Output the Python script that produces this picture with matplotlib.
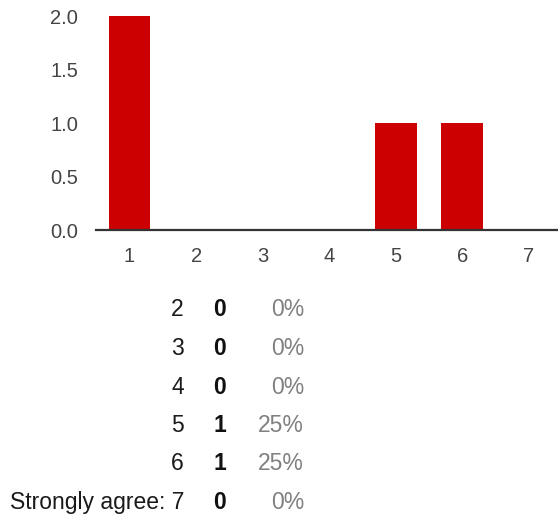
import matplotlib
matplotlib.use("Agg")
import matplotlib.pyplot as plt

plt.rcParams['font.family'] = ['Liberation Sans', 'DejaVu Sans']

# Response scale and number of answers per value
categories = [1, 2, 3, 4, 5, 6, 7]
counts = [2, 0, 0, 0, 1, 1, 0]
y_ticks = [0.0, 0.5, 1.0, 1.5, 2.0]

# Summary rows listed under the chart
row_labels = ["2", "3", "4", "5", "6", "Strongly agree: 7"]
row_categories = [2, 3, 4, 5, 6, 7]

W, H = 558, 518
DPI = 100
fig = plt.figure(figsize=(W / DPI, H / DPI), dpi=DPI)
fig.patch.set_facecolor("white")


def fx(px):
    return px / W


def fy(py):
    return 1 - py / H


ax = fig.add_axes([fx(96), fy(230.5), fx(558) - fx(96), fy(16) - fy(230.5)])
ax.bar(categories, counts, width=0.63, color="#CC0000", zorder=2)
ax.set_xlim(0.497, 7.435)
ax.set_ylim(0, 2.0)
ax.set_xticks(categories)
ax.set_xticklabels([str(c) for c in categories])
ax.set_yticks(y_ticks)
ax.set_yticklabels([f"{t:.1f}" for t in y_ticks])
ax.tick_params(axis="both", length=0, labelsize=14.5, colors="#444444")
ax.tick_params(axis="x", pad=12)
ax.tick_params(axis="y", pad=13)
for side in ("top", "right", "left"):
    ax.spines[side].set_visible(False)
ax.spines["bottom"].set_color("#333333")
ax.spines["bottom"].set_linewidth(1.6)
ax.spines["bottom"].set_zorder(3)

total = sum(counts)
row_y = [310, 348.5, 387, 425.5, 464, 502.5]
for label, cat, yy in zip(row_labels, row_categories, row_y):
    c = counts[categories.index(cat)]
    pct = round(100 * c / total)
    fig.text(fx(184), fy(yy), label, ha="right", va="center",
             fontsize=16.5, color="#1a1a1a")
    fig.text(fx(220), fy(yy), str(c), ha="center", va="center",
             fontsize=16.5, fontweight="bold", color="#111111")
    fig.text(fx(304), fy(yy), f"{pct}%", ha="right", va="center",
             fontsize=16.5, color="#808080")

fig.savefig("out.png", dpi=DPI)
